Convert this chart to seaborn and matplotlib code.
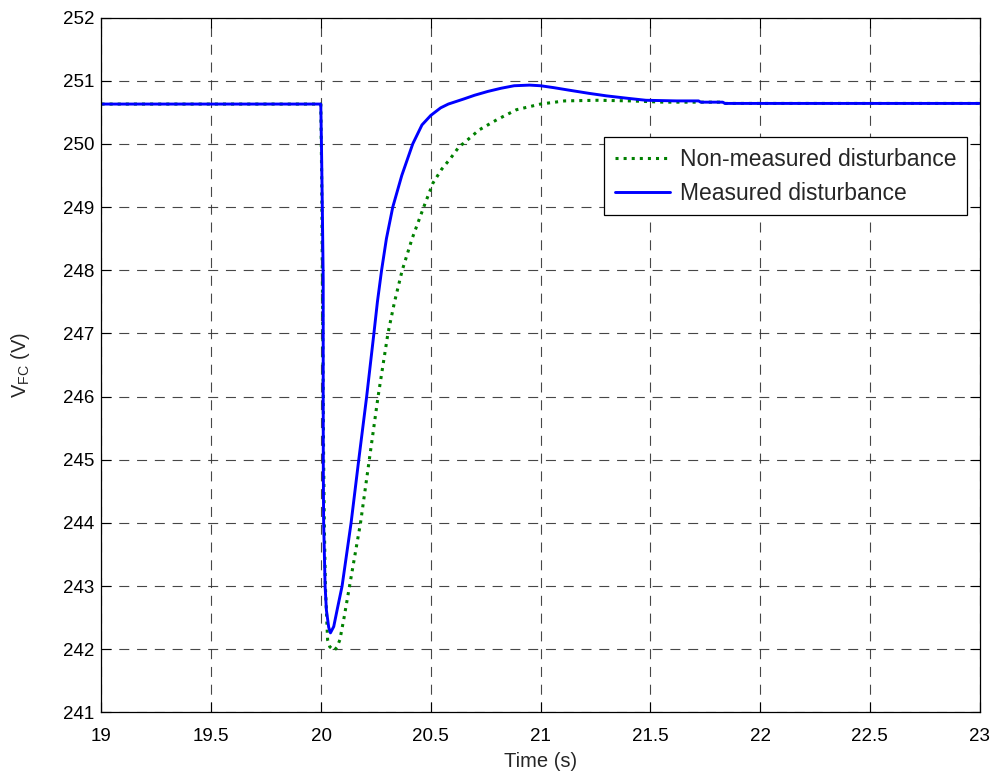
import numpy as np
import pandas as pd
import matplotlib
matplotlib.use("Agg")
import matplotlib.pyplot as plt
import seaborn as sns

sns.set_style("white")
plt.rcParams['font.family'] = ['Liberation Sans', 'DejaVu Sans']
plt.rcParams['mathtext.default'] = 'regular'

# Non-measured disturbance (green, dotted)
t_nonmeas = [19.0, 19.999, 20.003, 20.008, 20.012, 20.015, 20.02, 20.03, 20.04, 20.06,
             20.072, 20.086, 20.105, 20.13, 20.18, 20.22, 20.26, 20.305, 20.335, 20.37,
             20.415, 20.468, 20.51, 20.55, 20.59, 20.63, 20.65, 20.72, 20.80, 20.89,
             21.0, 21.11, 21.26, 21.41, 21.56, 21.82, 21.83, 23.0]
v_nonmeas = [250.63, 250.63, 249.5, 247.0, 245.0, 244.0, 243.0, 242.15, 242.04, 241.98,
             242.03, 242.15, 242.5, 243.0, 244.0, 245.0, 246.0, 247.0, 247.5, 248.0,
             248.5, 249.0, 249.38, 249.6, 249.77, 249.96, 250.01, 250.22, 250.38, 250.54,
             250.63, 250.68, 250.69, 250.68, 250.66, 250.66, 250.64, 250.64]

# Measured disturbance (blue, solid)
t_meas = [19.0, 19.999, 20.002, 20.006, 20.01, 20.01, 20.0105, 20.012, 20.0187, 20.0246,
          20.035, 20.043, 20.058, 20.075, 20.096, 20.137, 20.172, 20.208, 20.241, 20.257,
          20.276, 20.298, 20.327, 20.368, 20.418, 20.46, 20.50, 20.545, 20.58, 20.65, 20.70,
          20.76, 20.82, 20.88, 20.95, 21.0, 21.06, 21.13, 21.22, 21.30, 21.40,
          21.48, 21.62, 21.72, 21.73, 21.83, 21.84, 23.0]
v_meas = [250.63, 250.63, 250.0, 249.0, 247.85, 246.0, 244.84, 244.02, 243.0, 242.62,
          242.35, 242.26, 242.36, 242.65, 243.0, 244.0, 245.0, 246.0, 247.0, 247.5,
          248.0, 248.5, 249.0, 249.5, 250.0, 250.3, 250.45, 250.57, 250.63, 250.71, 250.77,
          250.83, 250.88, 250.92, 250.93, 250.92, 250.89, 250.85, 250.80, 250.76, 250.72,
          250.69, 250.68, 250.68, 250.66, 250.66, 250.64, 250.64]

x_ticks = [19, 19.5, 20, 20.5, 21, 21.5, 22, 22.5, 23]
x_tick_labels = ['19', '19.5', '20', '20.5', '21', '21.5', '22', '22.5', '23']
y_ticks = list(range(241, 253))

df_nm = pd.DataFrame({'t': t_nonmeas, 'v': v_nonmeas})
df_m = pd.DataFrame({'t': t_meas, 'v': v_meas})

fig = plt.figure(figsize=(9.99, 7.78), dpi=100)
ax = fig.add_axes([0.1016, 0.0842, 0.8789, 0.8933])

sns.lineplot(data=df_nm, x='t', y='v', ax=ax, estimator=None, sort=False,
             color='#008000', linestyle=':', linewidth=2.2, label='Non-measured disturbance')
sns.lineplot(data=df_m, x='t', y='v', ax=ax, estimator=None, sort=False,
             color='#0000ff', linestyle='-', linewidth=2.1, label='Measured disturbance')

ax.set_xlim(19, 23)
ax.set_ylim(241, 252)
ax.set_xticks(x_ticks)
ax.set_xticklabels(x_tick_labels)
ax.set_yticks(y_ticks)
ax.tick_params(direction='in', length=7, width=0.8, labelsize=13.5, colors='black',
               top=True, right=True, bottom=True, left=True)
ax.tick_params(axis='x', pad=11)
ax.tick_params(axis='y', pad=5)
ax.grid(True, color='#333333', linestyle=(0, (9, 7)), linewidth=0.8, alpha=0.9)
for s in ax.spines.values():
    s.set_color('black')
    s.set_linewidth(0.9)

ax.set_xlabel('Time (s)', fontsize=14.5, labelpad=5)
ax.set_ylabel('$V_{FC}$ (V)', fontsize=14.5, labelpad=22)

leg = ax.legend(loc='upper right', bbox_to_anchor=(0.9854, 0.8276), fontsize=16.5,
                frameon=True, fancybox=False, edgecolor='black', framealpha=1,
                handlelength=2.4, handletextpad=0.45, borderpad=0.45,
                labelspacing=0.5, borderaxespad=0)
leg.get_frame().set_linewidth(0.9)

fig.savefig('out.png', dpi=100)
